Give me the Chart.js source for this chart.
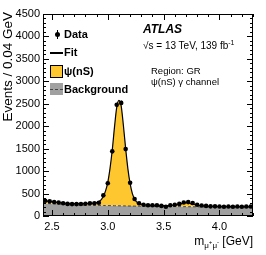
<!DOCTYPE html>
<html>
<head>
<meta charset="utf-8">
<script src="https://cdn.jsdelivr.net/npm/chart.js@4"></script>
<style>
  body { margin: 0; background: #fff; font-family: "Liberation Sans", Arial, sans-serif; }
  #wrap { position: relative; width: 266px; height: 255px; }
  canvas { position: absolute; left: 0; top: 0; }
  .t { position: absolute; white-space: nowrap; color: #000; line-height: 1; }
  .leg { font-weight: bold; font-size: 11px; }
  .ytitle { position: absolute; left: 0px; top: 12px; font-size: 13.5px; line-height: 15px;
            writing-mode: vertical-rl; transform: rotate(180deg); white-space: nowrap; }
</style>
</head>
<body>
<div id="wrap">
  <canvas id="c" width="266" height="255"></canvas>

  <div class="ytitle">Events / 0.04 GeV</div>
  <div class="t" style="right:13px; top:235px; font-size:12px;">m<sub style="font-size:8px">μ<sup style="font-size:6px">+</sup>μ<sup style="font-size:6px">-</sup></sub> [GeV]</div>

  <!-- legend -->
  <div style="position:absolute; left:57px; top:30px; width:1px; height:9px; background:#000"></div>
  <div style="position:absolute; left:55px; top:32px; width:5px; height:5px; border-radius:50%; background:#000"></div>
  <div class="t leg" style="left:64px; top:29px">Data</div>

  <div style="position:absolute; left:50px; top:52px; width:13px; height:1.5px; background:#000"></div>
  <div class="t leg" style="left:64px; top:47px">Fit</div>

  <div style="position:absolute; left:50px; top:65px; width:13px; height:13px; box-sizing:border-box; background:#ffc72f; border:1px solid #000"></div>
  <div class="t leg" style="left:64px; top:66px">ψ(nS)</div>

  <div style="position:absolute; left:50px; top:83px; width:13px; height:12px; background:#a0a0a0"></div>
  <div style="position:absolute; left:50px; top:89px; width:13px; height:0; border-top:1px dashed #444"></div>
  <div class="t leg" style="left:64px; top:84px">Background</div>

  <!-- labels -->
  <div class="t" style="left:143px; top:23px; font-size:12px; font-weight:bold; font-style:italic">ATLAS</div>
  <div class="t" style="left:143px; top:39px; font-size:10px">√s = 13 TeV, 139 fb<sup style="font-size:7px">-1</sup></div>
  <div class="t" style="left:151px; top:66px; font-size:9.5px">Region: GR</div>
  <div class="t" style="left:151px; top:77px; font-size:9.5px">ψ(nS) γ channel</div>
</div>

<script>
// binned data (bin width 0.04 GeV)
const binCentres = [2.44, 2.48, 2.52, 2.56, 2.60, 2.64, 2.68, 2.72, 2.76, 2.80,
                    2.84, 2.88, 2.92, 2.96, 3.00, 3.04, 3.08, 3.12, 3.16, 3.20,
                    3.24, 3.28, 3.32, 3.36, 3.40, 3.44, 3.48, 3.52, 3.56, 3.60,
                    3.64, 3.68, 3.72, 3.76, 3.80, 3.84, 3.88, 3.92, 3.96, 4.00,
                    4.04, 4.08, 4.12, 4.16, 4.20, 4.24, 4.28];
const counts     = [340, 328, 312, 300, 285, 270, 265, 265, 268, 272,
                    283, 285, 296, 460, 730, 1440, 2480, 2520, 1490, 740,
                    380, 285, 252, 238, 238, 238, 225, 205, 240, 250,
                    270, 300, 310, 290, 250, 235, 225, 215, 215, 210,
                    205, 210, 205, 210, 205, 210, 210];

// fit curves (total and background component)
const fitMass  = [2.42, 2.50, 2.60, 2.70, 2.80, 2.86, 2.90, 2.94, 2.96, 2.98,
                  3.00, 3.02, 3.04, 3.06, 3.08, 3.10, 3.12, 3.14, 3.16, 3.18,
                  3.20, 3.22, 3.24, 3.26, 3.30, 3.36, 3.44, 3.52, 3.60, 3.64,
                  3.68, 3.70, 3.72, 3.76, 3.80, 3.86, 3.94, 4.04, 4.16, 4.30];
const fitTotal = [345, 318, 290, 275, 276, 284, 300, 360, 440, 560,
                  750, 1060, 1470, 1980, 2420, 2575, 2450, 2010, 1500, 1050,
                  720, 500, 380, 310, 262, 242, 232, 232, 245, 262,
                  290, 300, 292, 262, 240, 225, 215, 210, 207, 205];
const bkgLevel = [285, 272, 258, 248, 242, 239, 237, 235, 234, 233,
                  232, 231, 230, 229, 228, 227, 226, 225, 224, 223,
                  222, 221, 220, 219, 218, 216, 214, 212, 210, 209,
                  208, 208, 207, 206, 205, 204, 203, 202, 201, 200];

const xMajor = [2.5, 3.0, 3.5, 4.0];

const pts = (xs, ys) => xs.map((x, i) => ({ x, y: ys[i] }));

const YELLOW = '#ffc72f';
const GREY   = '#a0a0a0';

// error bars on the data points
const errorBars = {
  id: 'errorBars',
  afterDatasetsDraw(chart) {
    const { ctx, scales: { x, y } } = chart;
    ctx.save();
    ctx.strokeStyle = '#000';
    ctx.lineWidth = 1;
    binCentres.forEach((m, i) => {
      const n = counts[i], e = Math.sqrt(n);
      const px = Math.round(x.getPixelForValue(m)) + 0.5;
      ctx.beginPath();
      ctx.moveTo(px, y.getPixelForValue(n - e));
      ctx.lineTo(px, y.getPixelForValue(n + e));
      ctx.stroke();
    });
    ctx.restore();
  }
};

// ROOT-style frame with inward ticks on all four sides
const frame = {
  id: 'frame',
  afterDraw(chart) {
    const { ctx, chartArea: a, scales: { x, y } } = chart;
    ctx.save();
    ctx.strokeStyle = '#000';
    ctx.lineWidth = 1;
    ctx.strokeRect(a.left + 0.5, a.top + 0.5, a.right - a.left - 1, a.bottom - a.top - 1);
    ctx.beginPath();
    for (let v = 2.5; v <= 4.3001; v += 0.1) {
      const major = xMajor.some(t => Math.abs(t - v) < 1e-6);
      const len = major ? 6 : 3;
      const px = Math.round(x.getPixelForValue(v)) + 0.5;
      ctx.moveTo(px, a.bottom); ctx.lineTo(px, a.bottom - len);
      ctx.moveTo(px, a.top);    ctx.lineTo(px, a.top + len);
    }
    for (let v = 0; v <= 4500; v += 100) {
      const len = v % 500 === 0 ? 6 : 3;
      const py = Math.round(y.getPixelForValue(v)) + 0.5;
      ctx.moveTo(a.left, py);  ctx.lineTo(a.left + len, py);
      ctx.moveTo(a.right, py); ctx.lineTo(a.right - len, py);
    }
    ctx.stroke();
    ctx.restore();
  }
};

new Chart(document.getElementById('c'), {
  type: 'line',
  data: {
    datasets: [
      { // background fill
        data: pts(fitMass, bkgLevel), order: 4,
        borderWidth: 0, pointRadius: 0, fill: 'origin', backgroundColor: GREY,
        cubicInterpolationMode: 'monotone'
      },
      { // total fit, yellow between fit and background
        data: pts(fitMass, fitTotal), order: 2,
        borderColor: '#000', borderWidth: 1.2, pointRadius: 0,
        fill: { target: 0, above: YELLOW, below: 'transparent' },
        cubicInterpolationMode: 'monotone'
      },
      { // background dashed line
        data: pts(fitMass, bkgLevel), order: 3,
        borderColor: '#444', borderWidth: 1, borderDash: [3, 2], pointRadius: 0, fill: false,
        cubicInterpolationMode: 'monotone'
      },
      { // data
        data: pts(binCentres, counts), order: 1,
        showLine: false, pointRadius: 2.3, pointBackgroundColor: '#000', pointBorderWidth: 0
      }
    ]
  },
  options: {
    responsive: false,
    animation: false,
    devicePixelRatio: 1,
    layout: { padding: { top: 14, right: 13, left: 0, bottom: 0 } },
    plugins: {
      legend: { display: false },
      tooltip: { enabled: false },
      filler: { drawTime: 'beforeDatasetsDraw' }
    },
    scales: {
      x: {
        type: 'linear', min: 2.42, max: 4.30,
        grid: { display: false, drawTicks: false }, border: { display: false },
        afterBuildTicks: s => { s.ticks = xMajor.map(v => ({ value: v })); },
        afterFit: s => { s.height = 39; },
        ticks: { color: '#000', font: { size: 11, family: 'Liberation Sans' }, padding: 4,
                 maxRotation: 0, callback: v => v.toFixed(1) }
      },
      y: {
        min: 0, max: 4500,
        grid: { display: false, drawTicks: false }, border: { display: false },
        afterFit: s => { s.width = 43; },
        ticks: { color: '#000', font: { size: 11, family: 'Liberation Sans' }, padding: 3, stepSize: 500,
                 callback: v => String(v) }
      }
    }
  },
  plugins: [errorBars, frame]
});
</script>
</body>
</html>
